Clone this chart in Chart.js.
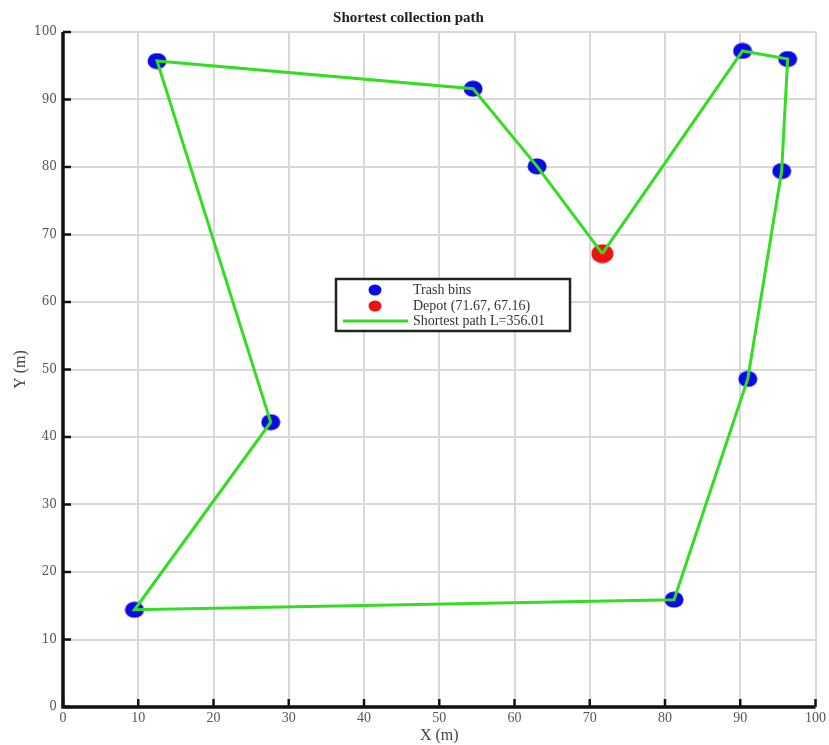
<!DOCTYPE html>
<html><head><meta charset="utf-8">
<script src="https://cdn.jsdelivr.net/npm/chart.js@4"></script>
<style>html,body{margin:0;padding:0;background:#fff}#wrap{width:829px;height:745px;position:relative}</style>
</head><body><div id="wrap"><canvas id="c" width="829" height="745"></canvas></div>
<script>
const binX = [54.5, 12.5, 27.6, 9.5, 81.2, 91.0, 95.5, 96.3, 90.3, 63.0];
const binY = [91.6, 95.7, 42.2, 14.4, 15.9, 48.6, 79.4, 96.0, 97.2, 80.1];
const depot = [71.67, 67.16];
const pathOrder = [9, 0, 1, 2, 3, 4, 5, 6, 7, 8]; // bin indices visited after leaving depot
const tickValues = [0,10,20,30,40,50,60,70,80,90,100];
const labels = ['Trash bins', 'Depot (71.67, 67.16)', 'Shortest path L=356.01'];

function ellipse(w, h, color){
  const c = document.createElement('canvas'); c.width = w; c.height = h;
  const g = c.getContext('2d'); g.fillStyle = color;
  g.beginPath(); g.ellipse(w/2, h/2, w/2-0.5, h/2-0.5, 0, 0, Math.PI*2); g.fill();
  return c;
}
const blueDot = ellipse(20, 17, '#0a0ae6');
const redDot = ellipse(23, 20, '#ee1111');
const blueLeg = ellipse(14, 12, '#0a0ae6');
const redLeg = ellipse(14, 12, '#ee1111');

const binPts = binX.map((x,i)=>({x:x, y:binY[i]}));
const pathPts = [{x:depot[0], y:depot[1]}]
  .concat(pathOrder.map(i=>({x:binX[i], y:binY[i]})))
  .concat([{x:depot[0], y:depot[1]}]);

const serif = '"Liberation Serif", "Times New Roman", serif';

const decor = {
  id:'decor',
  afterDraw(chart){
    const ctx = chart.ctx, a = chart.chartArea, xs = chart.scales.x, ys = chart.scales.y;
    ctx.save();
    ctx.strokeStyle = '#111'; ctx.lineWidth = 2.5;
    tickValues.forEach(v=>{
      const px = xs.getPixelForValue(v);
      ctx.beginPath(); ctx.moveTo(px, a.bottom); ctx.lineTo(px, a.bottom-8); ctx.stroke();
      const py = ys.getPixelForValue(v);
      ctx.beginPath(); ctx.moveTo(a.left, py); ctx.lineTo(a.left+8, py); ctx.stroke();
    });
    ctx.lineWidth = 3.5;
    ctx.beginPath(); ctx.moveTo(a.left, a.top); ctx.lineTo(a.left, a.bottom); ctx.lineTo(a.right, a.bottom); ctx.stroke();
    const bx = 336, by = 279, bw = 234, bh = 52;
    ctx.fillStyle = '#fff'; ctx.fillRect(bx, by, bw, bh);
    ctx.strokeStyle = '#222'; ctx.lineWidth = 2.5; ctx.strokeRect(bx, by, bw, bh);
    ctx.font = '14px ' + serif; ctx.fillStyle = '#333'; ctx.textBaseline = 'middle'; ctx.textAlign = 'left';
    const rows = [by+11, by+27, by+42];
    ctx.drawImage(blueLeg, 375-7, rows[0]-6);
    ctx.drawImage(redLeg, 375-7, rows[1]-6);
    ctx.strokeStyle = '#33dd22'; ctx.lineWidth = 3;
    ctx.beginPath(); ctx.moveTo(343, rows[2]); ctx.lineTo(408, rows[2]); ctx.stroke();
    labels.forEach((t,i)=>ctx.fillText(t, 413, rows[i]));
    ctx.restore();
  }
};

new Chart(document.getElementById('c'), {
  type:'scatter',
  data:{datasets:[
    {label:labels[0], data:binPts, pointStyle:blueDot, pointRadius:10, order:2},
    {label:labels[1], data:[{x:depot[0], y:depot[1]}], pointStyle:redDot, pointRadius:12, order:1},
    {label:labels[2], data:pathPts, showLine:true, borderColor:'#33dd22', borderWidth:3, pointRadius:0, fill:false, order:0, tension:0}
  ]},
  options:{
    responsive:false, animation:false,
    layout:{padding:{left:0, right:12, top:0, bottom:0}},
    plugins:{
      legend:{display:false}, tooltip:{enabled:false},
      title:{display:true, text:'Shortest collection path', color:'#222',
        font:{family:serif, size:15, weight:'bold'}, padding:{top:9, bottom:5}}
    },
    scales:{
      x:{type:'linear', min:0, max:100,
        afterBuildTicks(s){ s.ticks = tickValues.map(v=>({value:v})); },
        afterFit(s){ s.height = 38; },
        grid:{color:'#d8d8d8', lineWidth:2, drawTicks:false},
        border:{display:false},
        ticks:{color:'#555', padding:3, font:{family:serif, size:14}, maxRotation:0},
        title:{display:true, text:'X (m)', color:'#444', padding:{top:-2, bottom:0}, font:{family:serif, size:16}}
      },
      y:{type:'linear', min:0, max:100,
        afterBuildTicks(s){ s.ticks = tickValues.map(v=>({value:v})); },
        afterFit(s){ s.width = 63; },
        grid:{color:'#d8d8d8', lineWidth:2, drawTicks:false},
        border:{display:false},
        ticks:{color:'#555', padding:6, font:{family:'"DejaVu Serif", serif', size:12}},
        title:{display:true, text:'Y (m)', color:'#444', padding:{top:11, bottom:4}, font:{family:serif, size:16}}
      }
    }
  },
  plugins:[decor]
});
</script></body></html>
